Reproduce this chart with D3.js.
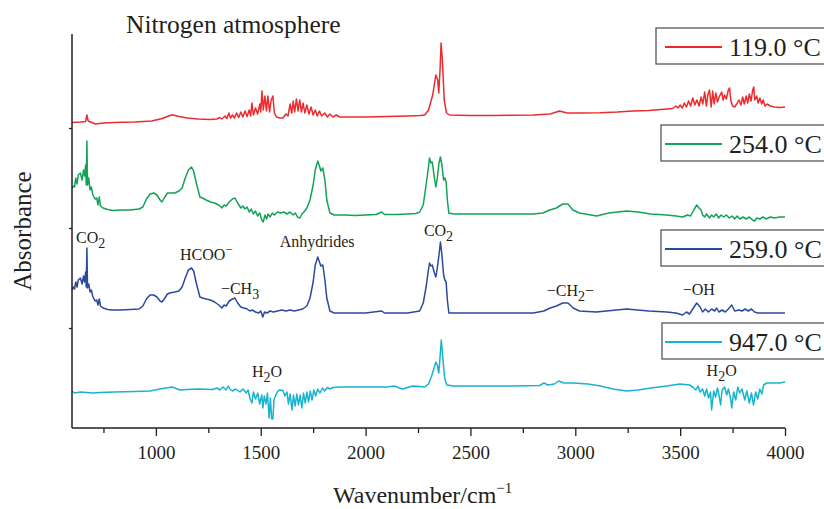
<!DOCTYPE html>
<html>
<head>
<meta charset="utf-8">
<script src="https://cdn.jsdelivr.net/npm/d3@7"></script>
<style>
  body { margin: 0; background: #fff; }
  svg { display: block; }
  text { font-family: "Liberation Serif", "Times New Roman", serif; fill: #231f20; }
</style>
</head>
<body>
<script>
// ---------------- DATA ----------------
const temperatures = ["119.0 °C", "254.0 °C", "259.0 °C", "947.0 °C"];
const seriesColors = ["#ec2b2f", "#13a354", "#2a4a9e", "#17b3cf"];
const stackOffsets = [2.95, 2.0, 1.0, 0.2];
const majorTicks = [1000, 1500, 2000, 2500, 3000, 3500, 4000];
const minorTicks = [750, 1250, 1750, 2250, 2750, 3250, 3750];

// [wavenumber cm-1, relative absorbance]
const spec119 = [[600,0.105],[640,0.11],[665,0.115],[671,0.18],[677,0.12],[700,0.10],[712,0.09],[750,0.10],[800,0.105],[900,0.11],[980,0.12],[1030,0.145],[1077,0.183],[1110,0.165],[1150,0.15],[1200,0.14],[1258,0.135],[1290,0.14],[1305,0.155],[1315,0.14],[1330,0.17],[1339,0.145],[1348,0.20],[1356,0.15],[1365,0.18],[1375,0.15],[1385,0.20],[1395,0.155],[1405,0.21],[1415,0.16],[1425,0.22],[1435,0.165],[1445,0.23],[1452,0.17],[1458,0.30],[1465,0.18],[1475,0.25],[1485,0.19],[1496,0.29],[1500,0.21],[1506,0.42],[1512,0.23],[1520,0.37],[1527,0.22],[1534,0.37],[1542,0.21],[1550,0.33],[1558,0.37],[1565,0.20],[1575,0.16],[1590,0.15],[1606,0.15],[1620,0.19],[1630,0.17],[1640,0.29],[1648,0.20],[1655,0.32],[1662,0.21],[1670,0.34],[1678,0.22],[1686,0.33],[1694,0.21],[1702,0.30],[1710,0.20],[1720,0.28],[1730,0.19],[1740,0.26],[1750,0.18],[1760,0.23],[1770,0.17],[1780,0.22],[1790,0.17],[1805,0.20],[1818,0.16],[1830,0.19],[1845,0.16],[1860,0.18],[1877,0.16],[1900,0.16],[2000,0.16],[2100,0.165],[2200,0.17],[2260,0.175],[2282,0.18],[2300,0.23],[2320,0.38],[2335,0.58],[2344,0.53],[2349,0.40],[2355,0.63],[2360,0.90],[2366,0.73],[2375,0.33],[2386,0.20],[2400,0.18],[2500,0.175],[2600,0.175],[2700,0.177],[2800,0.18],[2880,0.19],[2925,0.22],[2960,0.20],[3020,0.20],[3116,0.203],[3200,0.21],[3275,0.22],[3350,0.225],[3436,0.24],[3464,0.245],[3480,0.27],[3490,0.25],[3500,0.28],[3510,0.25],[3520,0.30],[3530,0.26],[3540,0.32],[3550,0.27],[3560,0.35],[3570,0.28],[3580,0.33],[3590,0.27],[3600,0.36],[3608,0.29],[3617,0.41],[3625,0.27],[3632,0.38],[3640,0.43],[3648,0.26],[3655,0.42],[3662,0.29],[3670,0.40],[3678,0.31],[3686,0.36],[3698,0.41],[3705,0.33],[3712,0.38],[3720,0.34],[3730,0.43],[3736,0.45],[3742,0.32],[3750,0.27],[3760,0.26],[3770,0.29],[3780,0.33],[3790,0.28],[3798,0.36],[3806,0.29],[3815,0.37],[3822,0.30],[3830,0.39],[3838,0.32],[3846,0.43],[3851,0.46],[3856,0.33],[3865,0.37],[3872,0.30],[3880,0.35],[3889,0.29],[3896,0.33],[3905,0.27],[3915,0.29],[3930,0.27],[3950,0.26],[3975,0.255],[4000,0.26]];

const spec254 = [[600,0.39],[606,0.42],[612,0.41],[618,0.50],[624,0.44],[630,0.53],[640,0.55],[648,0.48],[655,0.58],[660,0.52],[665,0.63],[668,0.43],[671,0.87],[674,0.43],[680,0.50],[686,0.38],[692,0.41],[700,0.33],[710,0.29],[718,0.30],[724,0.23],[730,0.31],[736,0.22],[748,0.20],[770,0.185],[795,0.175],[830,0.18],[876,0.18],[920,0.19],[938,0.21],[955,0.29],[972,0.34],[990,0.35],[1005,0.33],[1020,0.28],[1029,0.26],[1040,0.30],[1055,0.35],[1067,0.35],[1090,0.35],[1110,0.37],[1125,0.40],[1140,0.50],[1155,0.58],[1170,0.61],[1180,0.57],[1195,0.43],[1210,0.31],[1222,0.30],[1240,0.28],[1260,0.26],[1280,0.25],[1300,0.23],[1315,0.20],[1325,0.23],[1335,0.22],[1350,0.26],[1365,0.29],[1377,0.30],[1390,0.25],[1405,0.20],[1415,0.22],[1425,0.19],[1435,0.21],[1445,0.16],[1455,0.19],[1465,0.14],[1475,0.17],[1485,0.12],[1495,0.15],[1505,0.08],[1512,0.06],[1520,0.13],[1528,0.09],[1535,0.14],[1545,0.11],[1555,0.15],[1565,0.13],[1580,0.16],[1595,0.15],[1610,0.16],[1625,0.14],[1640,0.16],[1655,0.13],[1665,0.15],[1675,0.11],[1687,0.10],[1697,0.14],[1710,0.17],[1720,0.20],[1735,0.28],[1750,0.43],[1760,0.58],[1772,0.67],[1780,0.62],[1787,0.57],[1796,0.60],[1806,0.48],[1815,0.28],[1830,0.15],[1850,0.13],[1900,0.13],[1950,0.125],[2000,0.13],[2050,0.135],[2077,0.16],[2090,0.135],[2150,0.135],[2200,0.14],[2240,0.145],[2258,0.16],[2275,0.23],[2295,0.53],[2305,0.70],[2312,0.65],[2318,0.66],[2328,0.50],[2335,0.41],[2342,0.50],[2350,0.65],[2357,0.71],[2364,0.63],[2372,0.48],[2378,0.50],[2384,0.46],[2390,0.28],[2397,0.15],[2420,0.14],[2500,0.14],[2600,0.14],[2700,0.14],[2800,0.14],[2845,0.15],[2878,0.18],[2910,0.20],[2940,0.24],[2965,0.24],[2988,0.18],[3020,0.15],[3102,0.12],[3160,0.15],[3245,0.17],[3300,0.16],[3360,0.14],[3436,0.13],[3480,0.12],[3512,0.11],[3535,0.13],[3550,0.12],[3565,0.18],[3579,0.23],[3590,0.20],[3600,0.18],[3607,0.13],[3617,0.11],[3626,0.14],[3640,0.10],[3650,0.13],[3660,0.11],[3672,0.14],[3684,0.10],[3695,0.13],[3708,0.11],[3720,0.13],[3735,0.10],[3748,0.12],[3760,0.09],[3772,0.12],[3785,0.09],[3800,0.11],[3815,0.09],[3830,0.11],[3845,0.08],[3855,0.07],[3865,0.10],[3880,0.09],[3895,0.11],[3910,0.09],[3930,0.11],[3950,0.10],[3975,0.11],[4000,0.11]];

const spec259 = [[600,0.38],[606,0.41],[612,0.39],[618,0.46],[624,0.41],[630,0.48],[640,0.50],[648,0.44],[655,0.52],[660,0.46],[665,0.56],[668,0.41],[671,0.80],[674,0.40],[680,0.44],[686,0.36],[692,0.38],[700,0.31],[710,0.27],[718,0.28],[724,0.23],[730,0.29],[736,0.22],[748,0.20],[770,0.185],[795,0.18],[830,0.18],[876,0.185],[920,0.19],[938,0.22],[955,0.29],[972,0.33],[990,0.33],[1005,0.31],[1020,0.27],[1029,0.26],[1040,0.29],[1055,0.34],[1067,0.35],[1090,0.36],[1110,0.37],[1125,0.41],[1140,0.50],[1155,0.58],[1170,0.60],[1180,0.57],[1195,0.43],[1210,0.31],[1222,0.30],[1240,0.29],[1260,0.28],[1280,0.26],[1300,0.23],[1315,0.20],[1325,0.23],[1335,0.22],[1350,0.27],[1365,0.29],[1377,0.30],[1390,0.25],[1405,0.21],[1420,0.20],[1435,0.19],[1448,0.17],[1460,0.18],[1475,0.16],[1490,0.15],[1500,0.17],[1510,0.11],[1518,0.16],[1530,0.15],[1545,0.17],[1560,0.16],[1580,0.17],[1600,0.18],[1620,0.17],[1640,0.18],[1660,0.17],[1680,0.18],[1700,0.19],[1720,0.22],[1735,0.30],[1750,0.46],[1760,0.63],[1772,0.71],[1780,0.66],[1787,0.62],[1796,0.63],[1806,0.48],[1815,0.30],[1830,0.17],[1850,0.15],[1900,0.15],[2000,0.15],[2077,0.17],[2090,0.15],[2200,0.15],[2258,0.17],[2275,0.25],[2290,0.43],[2298,0.56],[2305,0.65],[2312,0.62],[2318,0.63],[2328,0.55],[2335,0.51],[2342,0.60],[2350,0.73],[2357,0.86],[2364,0.73],[2372,0.53],[2378,0.48],[2384,0.46],[2390,0.28],[2397,0.15],[2450,0.15],[2600,0.15],[2800,0.15],[2850,0.17],[2880,0.20],[2910,0.22],[2940,0.25],[2965,0.25],[2990,0.20],[3020,0.17],[3100,0.16],[3245,0.19],[3350,0.17],[3436,0.16],[3480,0.15],[3512,0.13],[3530,0.16],[3545,0.14],[3560,0.19],[3579,0.25],[3595,0.21],[3607,0.16],[3620,0.19],[3635,0.16],[3650,0.19],[3665,0.17],[3674,0.20],[3685,0.16],[3700,0.18],[3715,0.16],[3730,0.19],[3746,0.23],[3760,0.17],[3780,0.18],[3795,0.17],[3810,0.19],[3825,0.17],[3840,0.19],[3855,0.16],[3870,0.15],[3900,0.15],[3950,0.15],[4000,0.15]];

const spec947 = [[600,0.17],[612,0.15],[640,0.16],[700,0.15],[733,0.155],[800,0.16],[900,0.165],[972,0.17],[1020,0.19],[1077,0.21],[1115,0.18],[1150,0.185],[1200,0.19],[1272,0.185],[1290,0.20],[1305,0.18],[1320,0.21],[1335,0.18],[1345,0.22],[1353,0.19],[1365,0.17],[1380,0.19],[1401,0.16],[1415,0.19],[1430,0.15],[1440,0.18],[1448,0.10],[1458,0.05],[1465,0.16],[1475,0.09],[1486,0.15],[1495,0.04],[1505,0.13],[1510,0.00],[1517,0.12],[1525,0.04],[1532,0.15],[1540,-0.10],[1546,0.10],[1552,-0.11],[1558,-0.11],[1563,0.08],[1572,0.13],[1582,0.17],[1591,0.18],[1606,0.175],[1615,0.12],[1625,0.16],[1632,0.04],[1640,0.14],[1649,-0.02],[1656,0.13],[1664,0.02],[1672,0.14],[1680,0.03],[1688,0.13],[1696,0.00],[1704,0.15],[1712,0.05],[1720,0.16],[1728,0.06],[1736,0.17],[1745,0.08],[1753,0.18],[1762,0.12],[1772,0.19],[1782,0.15],[1795,0.20],[1805,0.17],[1818,0.205],[1830,0.19],[1845,0.205],[1880,0.21],[1925,0.21],[2000,0.21],[2100,0.21],[2139,0.22],[2160,0.20],[2178,0.19],[2200,0.205],[2225,0.22],[2259,0.215],[2282,0.21],[2300,0.24],[2315,0.32],[2335,0.46],[2342,0.43],[2349,0.35],[2354,0.48],[2361,0.68],[2367,0.53],[2377,0.30],[2387,0.23],[2420,0.22],[2500,0.22],[2700,0.22],[2830,0.225],[2850,0.25],[2870,0.23],[2900,0.24],[2921,0.27],[2945,0.25],[2990,0.25],[3060,0.24],[3120,0.22],[3180,0.19],[3245,0.17],[3300,0.18],[3360,0.20],[3436,0.22],[3498,0.24],[3545,0.23],[3560,0.21],[3575,0.18],[3585,0.22],[3595,0.16],[3607,0.19],[3617,0.12],[3626,0.19],[3636,0.10],[3645,0.16],[3650,-0.02],[3660,0.17],[3669,0.11],[3678,0.20],[3685,0.13],[3693,0.03],[3700,0.18],[3712,0.21],[3722,0.13],[3730,0.19],[3741,0.09],[3746,0.00],[3755,0.16],[3765,0.08],[3775,0.21],[3784,0.15],[3795,0.19],[3808,0.08],[3818,0.17],[3830,0.05],[3840,0.15],[3850,0.03],[3860,0.16],[3870,0.09],[3880,0.19],[3890,0.14],[3898,0.23],[3913,0.25],[3940,0.25],[3975,0.25],[4000,0.26]];

const spectra = [spec119, spec254, spec259, spec947];

// band assignments: [label parts, wavenumber, stacked absorbance]
const bandLabels = [
  [[["CO",""],["2","sub"]], 619, 1.85],
  [[["HCOO",""],["−","sup"]], 1115, 1.68],
  [[["−CH",""],["3","sub"]], 1310, 1.34],
  [[["Anhydrides",""]], 1591, 1.81],
  [[["CO",""],["2","sub"]], 2278, 1.92],
  [[["−CH",""],["2","sub"],["−",""]], 2864, 1.32],
  [[["−OH",""]], 3512, 1.33],
  [[["H",""],["2","sub"],["O",""]], 1458, 0.51],
  [[["H",""],["2","sub"],["O",""]], 3626, 0.52]
];

// ---------------- CHART ----------------
const W = 824, H = 509;
const svg = d3.select("body").append("svg").attr("width", W).attr("height", H);

const x = d3.scaleLinear().domain([600, 4000]).range([72, 785]);
const y = d3.scaleLinear().domain([0, 3.94]).range([428, 34]);
const ink = "#231f20";

// spectra
const line = d3.line().x(d => x(d[0])).y(d => y(d[1]));
spectra.forEach((s, i) => {
  svg.append("path")
    .datum(s.map(d => [d[0], d[1] + stackOffsets[i]]))
    .attr("d", line)
    .attr("fill", "none")
    .attr("stroke", seriesColors[i])
    .attr("stroke-width", 1.5)
    .attr("stroke-linejoin", "round");
});

// x axis
const gx = svg.append("g").attr("transform", `translate(0,${y(0)})`);
gx.call(d3.axisBottom(x).tickValues(majorTicks).tickSize(8).tickPadding(5).tickFormat(d3.format("d")))
  .call(g => g.select(".domain").attr("stroke", ink).attr("stroke-width", 1.5).attr("d", `M${x(600)},0H${x(4000)}`))
  .call(g => g.selectAll(".tick line").attr("stroke", ink).attr("stroke-width", 1.3))
  .call(g => g.selectAll(".tick text").attr("font-size", 19).attr("font-family", "Liberation Serif").attr("fill", ink).attr("dy", "0.95em"));
const gxm = svg.append("g").attr("transform", `translate(0,${y(0)})`);
gxm.call(d3.axisBottom(x).tickValues(minorTicks).tickSize(5).tickFormat(""))
  .call(g => g.select(".domain").remove())
  .call(g => g.selectAll(".tick line").attr("stroke", ink).attr("stroke-width", 1.3));

// y axis
const gy = svg.append("g").attr("transform", `translate(${x(600)},0)`);
gy.call(d3.axisLeft(y).tickValues([1, 2, 3]).tickSize(3).tickFormat(""))
  .call(g => g.select(".domain").attr("stroke", ink).attr("stroke-width", 1.5).attr("d", `M0,${y(0)}V${y(3.94)}`))
  .call(g => g.selectAll(".tick line").attr("stroke", ink).attr("stroke-width", 1.3));

// titles
svg.append("text").attr("x", 126).attr("y", 33).attr("font-size", 25.5).text("Nitrogen atmosphere");

svg.append("text")
  .attr("transform", `translate(31,${(y(0) + y(3.94)) / 2}) rotate(-90)`)
  .attr("text-anchor", "middle").attr("font-size", 25).text("Absorbance");

const xt = svg.append("text").attr("x", 333).attr("y", 503).attr("font-size", 24);
xt.append("tspan").text("Wavenumber/cm");
xt.append("tspan").attr("font-size", 15).attr("dy", -10).text("−1");

// band labels
bandLabels.forEach(([parts, wn, a]) => {
  const t = svg.append("text").attr("x", x(wn)).attr("y", y(a)).attr("font-size", 16);
  let shift = 0;
  parts.forEach(([s, kind]) => {
    let target = kind === "sub" ? 5 : kind === "sup" ? -6 : 0;
    const ts = t.append("tspan").text(s).attr("dy", target - shift);
    if (kind) ts.attr("font-size", kind === "sub" ? 14 : 13);
    shift = target;
  });
});

// legends
const legendBoxes = [[656, 28], [661, 125], [661, 230], [662, 323]];
temperatures.forEach((t, i) => {
  const [lx, ly] = legendBoxes[i];
  const g = svg.append("g").attr("transform", `translate(${lx},${ly})`);
  g.append("rect").attr("width", 180).attr("height", 36)
    .attr("fill", "#fff").attr("stroke", "#4a4a4a").attr("stroke-width", 1.2);
  g.append("line").attr("x1", 665 - lx).attr("x2", 722 - lx).attr("y1", 19).attr("y2", 19)
    .attr("stroke", seriesColors[i]).attr("stroke-width", 1.8);
  g.append("text").attr("x", 729 - lx).attr("y", 28).attr("font-size", 26).text(t);
});
</script>
</body>
</html>
